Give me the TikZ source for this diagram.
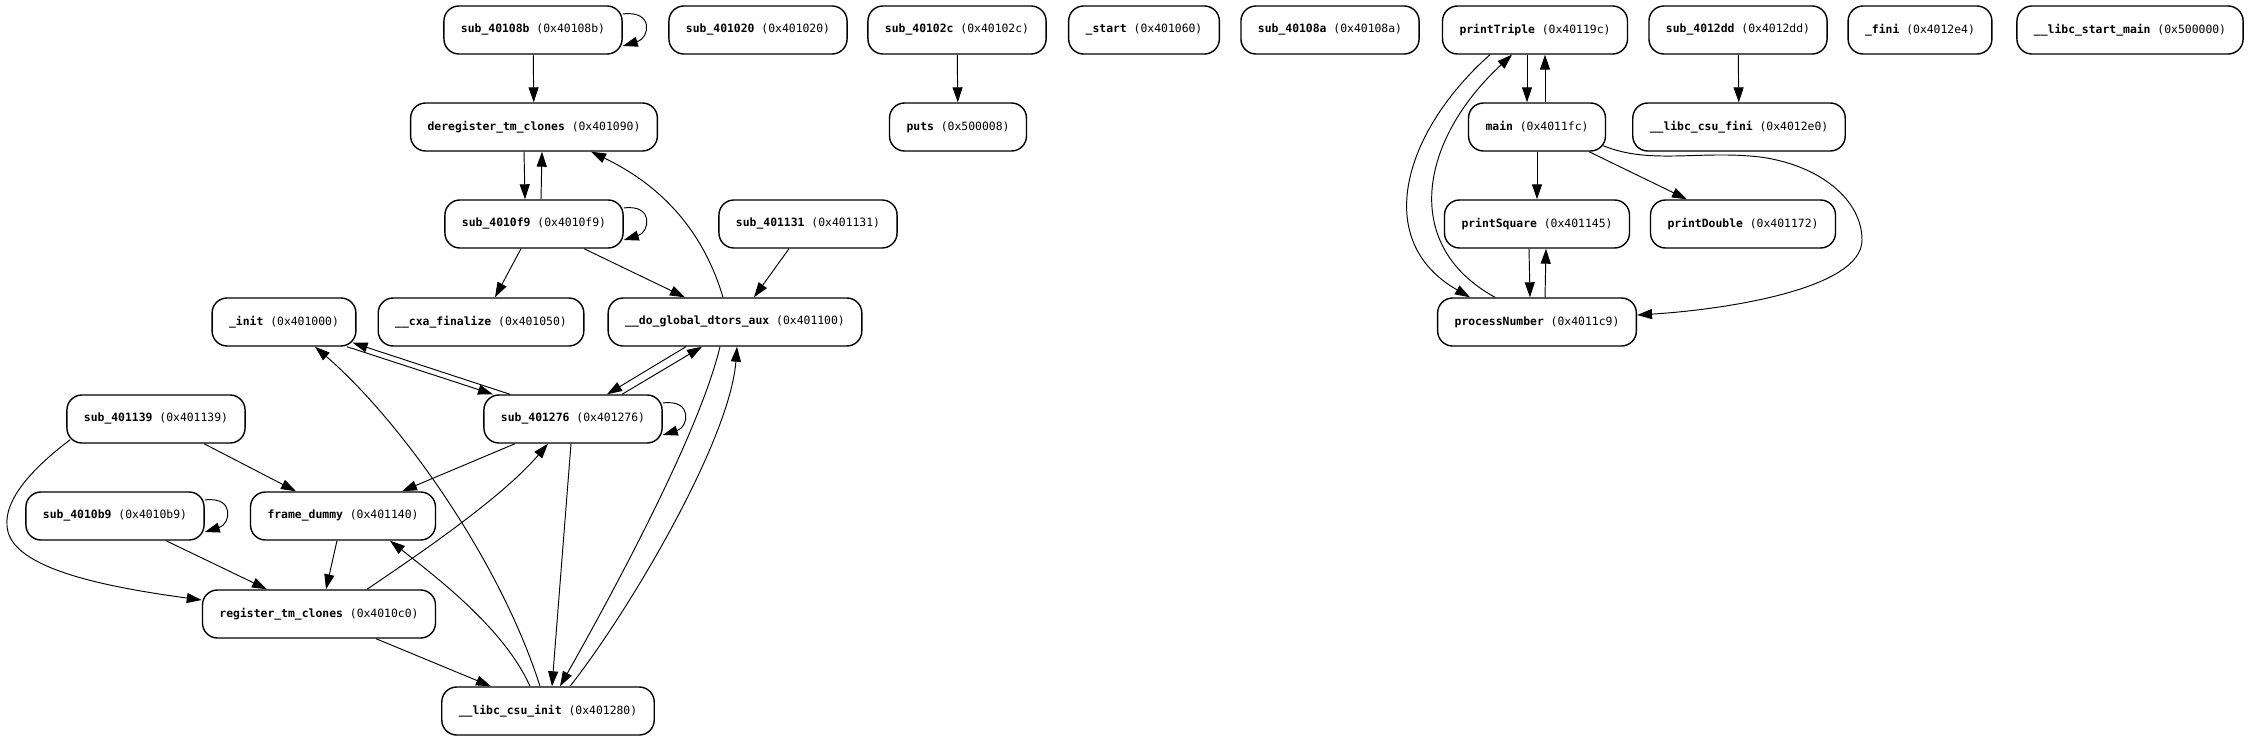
\documentclass[tikz,border=0pt]{standalone}
\usepackage{fontspec}
\setmonofont{DejaVu Sans Mono}
\usetikzlibrary{arrows.meta, calc}

\begin{document}
\begin{tikzpicture}[x=1pt, y=-1pt, >={Triangle[length=15pt, width=10pt]}, line width=0.95pt,
  fn/.style={draw, rounded corners=15pt, minimum height=48pt, inner xsep=17pt, line width=1.4pt, font=\ttfamily\fontsize{11.4}{13}\selectfont}]

\useasboundingbox (0,0) rectangle (2248,741);

% Nodes, first row
\node[fn] (s40108b) at (533,30) {\textbf{sub\_40108b} (0x40108b)};
\node[fn] (s401020) at (758,30) {\textbf{sub\_401020} (0x401020)};
\node[fn] (s40102c) at (957,30) {\textbf{sub\_40102c} (0x40102c)};
\node[fn] (start) at (1144,30) {\textbf{\_start} (0x401060)};
\node[fn] (s40108a) at (1330,30) {\textbf{sub\_40108a} (0x40108a)};
\node[fn] (ptriple) at (1535,30) {\textbf{printTriple} (0x40119c)};
\node[fn] (s4012dd) at (1738,30) {\textbf{sub\_4012dd} (0x4012dd)};
\node[fn] (fini) at (1920,30) {\textbf{\_fini} (0x4012e4)};
\node[fn] (lsmain) at (2130,30) {\textbf{\_\_libc\_start\_main} (0x500000)};

% Nodes, second row
\node[fn] (dereg) at (534,127) {\textbf{deregister\_tm\_clones} (0x401090)};
\node[fn] (puts) at (958,127) {\textbf{puts} (0x500008)};
\node[fn] (main) at (1537,127) {\textbf{main} (0x4011fc)};
\node[fn] (csufini) at (1739,127) {\textbf{\_\_libc\_csu\_fini} (0x4012e0)};

% Nodes, third row
\node[fn] (s4010f9) at (534,224) {\textbf{sub\_4010f9} (0x4010f9)};
\node[fn] (s401131) at (808,224) {\textbf{sub\_401131} (0x401131)};
\node[fn] (psquare) at (1537,224) {\textbf{printSquare} (0x401145)};
\node[fn] (pdouble) at (1743,224) {\textbf{printDouble} (0x401172)};

% Nodes, fourth row
\node[fn] (init) at (284,322) {\textbf{\_init} (0x401000)};
\node[fn] (cxa) at (481,322) {\textbf{\_\_cxa\_finalize} (0x401050)};
\node[fn] (dtors) at (735,322) {\textbf{\_\_do\_global\_dtors\_aux} (0x401100)};
\node[fn] (pnumber) at (1537,322) {\textbf{processNumber} (0x4011c9)};

% Nodes, lower rows
\node[fn] (s401139) at (156,419) {\textbf{sub\_401139} (0x401139)};
\node[fn] (s401276) at (573,419) {\textbf{sub\_401276} (0x401276)};
\node[fn] (s4010b9) at (115,516) {\textbf{sub\_4010b9} (0x4010b9)};
\node[fn] (fdummy) at (343,516) {\textbf{frame\_dummy} (0x401140)};
\node[fn] (regtm) at (319,614) {\textbf{register\_tm\_clones} (0x4010c0)};
\node[fn] (csuinit) at (548,711) {\textbf{\_\_libc\_csu\_init} (0x401280)};

% Arrows, upper left group
\draw[->] (s40108b) -- (dereg);
\draw[->] ([yshift=16]s40108b.east) .. controls (654,10) and (650,38) .. ([yshift=-16]s40108b.east);
\draw[->] ([xshift=-10]dereg.south) -- ([xshift=-9]s4010f9.north);
\draw[->] ([xshift=7]s4010f9.north) -- ([xshift=8]dereg.south);
\draw[->] ([yshift=16]s4010f9.east) .. controls (654,204) and (650,232) .. ([yshift=-16]s4010f9.east);
\draw[->] ([xshift=-13]s4010f9.south) -- ([xshift=14]cxa.north);
\draw[->] ([xshift=50]s4010f9.south) -- ([xshift=-50]dtors.north);
\draw[->] ([xshift=-19]s401131.south) -- ([xshift=19]dtors.north);
\draw[->] ([xshift=-12]dtors.north) .. controls (700,220) and (650,180) .. ([xshift=57]dereg.south);

% Arrows around sub_401276
\draw[->] ([xshift=63]init.south) -- ([xshift=-80]s401276.north);
\draw[->] ([xshift=-63]s401276.north) -- ([xshift=-4,yshift=4]init.south east);
\draw[->] ([xshift=-49]dtors.south) -- ([xshift=34]s401276.north);
\draw[->] ([xshift=49]s401276.north) -- ([xshift=-33]dtors.south);
\draw[->] ([yshift=16]s401276.east) .. controls (693,399) and (689,427) .. ([yshift=-16]s401276.east);
\draw[->] ([xshift=-58]s401276.south) -- ([xshift=59]fdummy.north);
\draw[->] ([xshift=-2]s401276.south) -- ([xshift=4]csuinit.north);

% Arrows to and from __libc_csu_init
\draw[->] ([xshift=-15]dtors.south) .. controls (700,430) and (620,580) .. ([xshift=12]csuinit.north);
\draw[->] ([xshift=22]csuinit.north) .. controls (630,610) and (730,440) .. ([xshift=2]dtors.south);
\draw[->] ([xshift=-8]csuinit.north) .. controls (500,560) and (400,420) .. ([xshift=31]init.south);
\draw[->] ([xshift=-18]csuinit.north) .. controls (505,630) and (440,580) .. ([xshift=47]fdummy.south);

% Arrows, lower left group
\draw[->] ([xshift=48]s401139.south) -- ([xshift=-47]fdummy.north);
\draw[->] ([xshift=4,yshift=4]s401139.south west) .. controls (30,470) and (5,500) .. (7,525)
  .. controls (8,565) and (90,585) .. ([yshift=14]regtm.west);
\draw[->] ([yshift=16]s4010b9.east) .. controls (235,496) and (231,524) .. ([yshift=-16]s4010b9.east);
\draw[->] ([xshift=51]s4010b9.south) -- ([xshift=-52]regtm.north);
\draw[->] ([xshift=-6]fdummy.south) -- ([xshift=7]regtm.north);
\draw[->] ([xshift=48]regtm.north) .. controls (410,560) and (500,500) .. ([xshift=-25]s401276.south);
\draw[->] ([xshift=57]regtm.south) -- ([xshift=-57]csuinit.north);

% Arrows, right group
\draw[->] (s40102c) -- (puts);
\draw[->] (s4012dd) -- (csufini);
\draw[->] ([xshift=-8]ptriple.south) -- ([xshift=-10]main.north);
\draw[->] ([xshift=8]main.north) -- ([xshift=10]ptriple.south);
\draw[->] ([xshift=-45]ptriple.south) .. controls (1405,130) and (1370,240) .. ([xshift=-67]pnumber.north);
\draw[->] ([xshift=-42]pnumber.north) .. controls (1400,245) and (1420,140) .. ([xshift=-23]ptriple.south);
\draw[->] (main) -- (psquare);
\draw[->] ([xshift=52]main.south) -- ([xshift=-56]pdouble.north);
\draw[->] ([xshift=-3,yshift=6]main.south east) .. controls (1650,165) and (1700,150) .. (1760,157)
  .. controls (1820,165) and (1862,200) .. (1862,240)
  .. controls (1862,290) and (1720,310) .. ([yshift=7]pnumber.east);
\draw[->] ([xshift=-8]psquare.south) -- ([xshift=-7]pnumber.north);
\draw[->] ([xshift=8]pnumber.north) -- ([xshift=9]psquare.south);

\end{tikzpicture}
\end{document}
